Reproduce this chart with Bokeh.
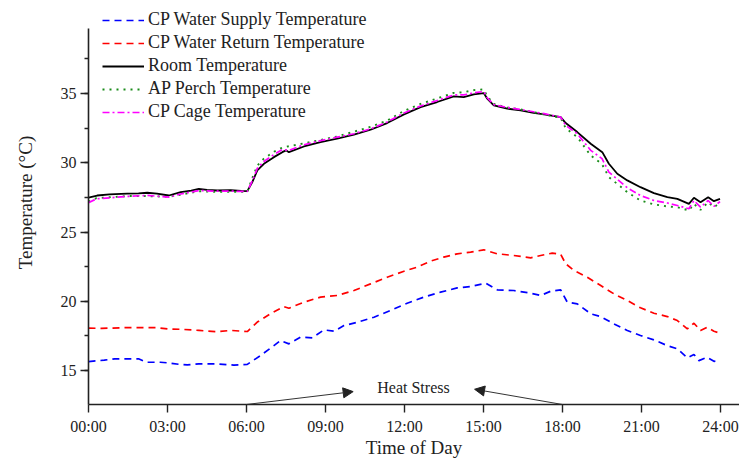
from bokeh.plotting import figure
from bokeh.models import (Range1d, Legend, LegendItem, Arrow, NormalHead, Label,
                          FixedTicker, SingleIntervalTicker)
from bokeh.embed import file_html
from bokeh.resources import INLINE

# ---------------- data ----------------
tick_hours = [0, 3, 6, 9, 12, 15, 18, 21, 24]
tick_labels = ["00:00", "03:00", "06:00", "09:00", "12:00", "15:00", "18:00", "21:00", "24:00"]

supply_t = [0.0, 0.6, 1.0, 1.47, 1.9, 2.2, 2.73, 3.05, 3.45, 3.75, 4.19, 4.89, 5.52, 6.03, 6.53,
            7.04, 7.29, 7.61, 8.05, 8.5, 8.94, 9.32, 9.7, 10.21, 10.84, 11.47, 12.1, 12.73, 13.37,
            14.0, 14.51, 15.08, 15.52, 16.15, 16.79, 17.17, 17.55, 17.93, 18.18, 18.56, 19.07,
            19.45, 19.95, 20.46, 20.96, 21.47, 21.98, 22.36, 22.74, 22.99, 23.18, 23.49, 23.75, 23.98]
supply_v = [15.65, 15.75, 15.85, 15.85, 15.85, 15.6, 15.6, 15.55, 15.45, 15.41, 15.48, 15.48, 15.4,
            15.45, 16.08, 16.8, 17.17, 16.93, 17.41, 17.36, 17.94, 17.84, 18.25, 18.49, 18.85, 19.34,
            19.86, 20.3, 20.66, 20.97, 21.07, 21.31, 20.83, 20.78, 20.59, 20.42, 20.73, 20.83, 19.94,
            19.82, 19.1, 18.9, 18.37, 17.89, 17.53, 17.22, 16.8, 16.57, 15.92, 16.16, 15.72, 15.96,
            15.67, 15.72]

return_t = [0.0, 0.5, 1.47, 2.23, 2.6, 3.05, 3.5, 4.19, 4.89, 5.39, 6.03, 6.41, 6.91, 7.42, 7.61,
            8.18, 8.81, 9.44, 10.08, 10.71, 11.34, 11.98, 12.48, 12.99, 13.49, 14.0, 14.51, 15.01,
            15.52, 16.15, 16.79, 17.17, 17.61, 17.93, 18.12, 18.43, 18.94, 19.45, 19.95, 20.46,
            20.96, 21.47, 21.98, 22.36, 22.74, 22.99, 23.24, 23.49, 23.75, 23.9]
return_v = [18.06, 18.05, 18.1, 18.1, 18.1, 18.0, 17.98, 17.9, 17.8, 17.9, 17.82, 18.5, 19.1, 19.62,
            19.5, 19.94, 20.3, 20.42, 20.78, 21.26, 21.74, 22.17, 22.47, 22.9, 23.19, 23.43, 23.55,
            23.72, 23.43, 23.31, 23.14, 23.31, 23.48, 23.4, 22.71, 22.23, 21.74, 21.14, 20.54, 20.06,
            19.53, 19.14, 18.9, 18.61, 18.01, 18.42, 17.89, 18.13, 17.84, 17.75]

room_t = [0.0, 0.33, 0.8, 1.47, 1.9, 2.23, 2.6, 3.05, 3.5, 3.9, 4.19, 4.5, 4.89, 5.4, 5.8, 6.03,
          6.22, 6.41, 6.66, 7.04, 7.36, 7.5, 7.61, 8.18, 8.81, 9.44, 10.08, 10.71, 11.34, 11.98,
          12.61, 13.24, 13.87, 14.25, 14.63, 15.01, 15.14, 15.39, 15.9, 16.41, 16.9, 17.3, 17.93,
          18.12, 18.56, 19.07, 19.51, 19.76, 20.08, 20.46, 20.96, 21.47, 21.98, 22.36, 22.8, 22.99,
          23.24, 23.53, 23.75, 23.98]
room_v = [27.48, 27.64, 27.72, 27.77, 27.8, 27.84, 27.78, 27.64, 27.88, 28.0, 28.12, 28.05, 28.0,
          28.02, 27.98, 27.96, 28.61, 29.45, 29.93, 30.41, 30.77, 30.9, 30.77, 31.18, 31.5, 31.74,
          32.03, 32.39, 32.87, 33.5, 34.02, 34.39, 34.8, 34.75, 34.94, 35.04, 34.63, 34.15, 33.91,
          33.79, 33.6, 33.5, 33.3, 32.87, 32.22, 31.38, 30.77, 29.93, 29.21, 28.73, 28.24, 27.81,
          27.52, 27.4, 27.04, 27.48, 27.16, 27.52, 27.23, 27.4]

perch_t = [0.0, 0.3, 1.47, 2.2, 3.05, 3.5, 4.19, 4.9, 5.5, 6.03, 6.22, 6.41, 6.66, 7.04, 7.36, 7.61,
           8.18, 8.81, 9.44, 10.08, 10.71, 11.34, 11.98, 12.61, 13.24, 13.87, 14.25, 14.63, 15.01,
           15.14, 15.39, 15.9, 16.41, 17.3, 17.93, 18.12, 18.56, 19.07, 19.5, 19.76, 20.46, 20.96,
           21.47, 21.98, 22.36, 22.8, 22.99, 23.24, 23.53, 23.75, 23.98]
perch_v = [27.2, 27.45, 27.6, 27.6, 27.55, 27.7, 27.95, 27.9, 27.9, 27.9, 28.9, 29.8, 30.3, 30.8,
           31.1, 31.2, 31.4, 31.65, 31.9, 32.25, 32.6, 33.05, 33.75, 34.25, 34.65, 35.05, 35.1,
           35.25, 35.3, 34.8, 34.25, 34.0, 33.85, 33.5, 33.25, 32.5, 31.86, 30.53, 29.9, 28.97,
           27.88, 27.28, 27.0, 26.85, 26.8, 26.56, 27.04, 26.6, 27.16, 26.8, 27.1]

cage_t = [0.0, 0.3, 1.47, 2.2, 3.05, 3.5, 4.19, 4.9, 5.5, 6.03, 6.22, 6.41, 6.66, 7.04, 7.36, 7.61,
          8.18, 8.81, 9.44, 10.08, 10.71, 11.34, 11.98, 12.61, 13.24, 13.87, 14.25, 14.63, 15.01,
          15.14, 15.39, 15.9, 16.41, 17.3, 17.93, 18.12, 18.56, 19.07, 19.5, 19.76, 20.46, 20.96,
          21.47, 21.98, 22.36, 22.8, 22.99, 23.24, 23.53, 23.75, 23.98]
cage_v = [27.12, 27.4, 27.57, 27.65, 27.52, 27.75, 28.0, 27.95, 27.95, 27.93, 28.7, 29.6, 30.1,
          30.6, 30.95, 30.9, 31.3, 31.6, 31.85, 32.1, 32.45, 32.95, 33.6, 34.1, 34.5, 34.9, 34.9,
          35.05, 35.15, 34.7, 34.2, 34.0, 33.85, 33.55, 33.3, 32.7, 32.1, 30.9, 30.3, 29.33, 28.2,
          27.64, 27.28, 27.1, 26.92, 26.68, 27.28, 26.8, 27.28, 26.85, 27.2]

# axis extent and annotation (data units)
y_axis_min, y_axis_max = 12.55, 39.7
heat_text = "Heat Stress"
heat_text_pos = (12.34, 13.77)
arrow1 = (6.0, y_axis_min, 10.05, 13.48)
arrow2 = (18.0, y_axis_min, 14.66, 13.65)

FONT = "Liberation Serif"

# frame spans whole height above the x axis so the legend is not clipped;
# the y axis line itself is bounded to the original extent
p = figure(width=739, height=467, x_range=Range1d(0, 24.72), y_range=Range1d(y_axis_min, 41.72),
           output_backend="svg", toolbar_location=None,
           min_border_left=88, min_border_right=0, min_border_top=0, min_border_bottom=63)
p.outline_line_color = None
p.xgrid.visible = False
p.ygrid.visible = False
p.background_fill_color = "white"

r_sup = p.line(supply_t, supply_v, line_color="#0000ff", line_width=1.7, line_dash="7 5")
r_ret = p.line(return_t, return_v, line_color="#ff0000", line_width=1.7, line_dash="7 5")
r_room = p.line(room_t, room_v, line_color="black", line_width=1.8)
r_perch = p.line(perch_t, perch_v, line_color="#1a8c1a", line_width=1.9, line_dash="2 5")
r_cage = p.line(cage_t, cage_v, line_color="#ff00ff", line_width=1.7, line_dash="7 3 2 3")

legend = Legend(items=[
    LegendItem(label="CP Water Supply Temperature", renderers=[r_sup]),
    LegendItem(label="CP Water Return Temperature", renderers=[r_ret]),
    LegendItem(label="Room Temperature", renderers=[r_room]),
    LegendItem(label="AP Perch Temperature", renderers=[r_perch]),
    LegendItem(label="CP Cage Temperature", renderers=[r_cage]),
], location=(14, 282))
legend.padding = 0
legend.margin = 0
legend.spacing = 2
legend.glyph_width = 42
legend.glyph_height = 20
legend.label_height = 20
legend.label_standoff = 4
legend.label_text_font = FONT
legend.label_text_font_size = "18px"
legend.label_text_color = "#222222"
legend.border_line_color = None
legend.background_fill_alpha = 0
p.add_layout(legend)

# x axis
xa = p.xaxis[0]
xa.ticker = FixedTicker(ticks=tick_hours, minor_ticks=[])
xa.major_label_overrides = {h: lab for h, lab in zip(tick_hours, tick_labels)}
xa.axis_label = "Time of Day"
# y axis
ya = p.yaxis[0]
ya.ticker = SingleIntervalTicker(interval=5, num_minor_ticks=2)
ya.bounds = (y_axis_min, y_axis_max)
ya.axis_label = "Temperature (°C)"

for ax in (xa, ya):
    ax.axis_line_color = "#222222"
    ax.axis_line_width = 1.6
    ax.major_tick_line_color = "#222222"
    ax.major_tick_line_width = 1.4
    ax.minor_tick_line_color = "#222222"
    ax.minor_tick_line_width = 1.4
    ax.major_tick_out = 8
    ax.major_tick_in = 0
    ax.minor_tick_out = 4
    ax.minor_tick_in = 0
    ax.major_label_text_font = FONT
    ax.major_label_text_font_size = "16px"
    ax.major_label_text_color = "#222222"
    ax.axis_label_text_font = FONT
    ax.axis_label_text_font_size = "19px"
    ax.axis_label_text_font_style = "normal"
    ax.axis_label_text_color = "#222222"
xa.major_label_standoff = 5
xa.axis_label_standoff = -1
ya.major_label_standoff = 4
ya.axis_label_standoff = 22

head_kw = dict(size=10, fill_color="#222222", line_color="#222222")
for (xs, ys, xe, ye) in (arrow1, arrow2):
    p.add_layout(Arrow(end=NormalHead(**head_kw), x_start=xs, y_start=ys, x_end=xe, y_end=ye,
                       line_color="#333333", line_width=1))
p.add_layout(Label(x=heat_text_pos[0], y=heat_text_pos[1], text=heat_text, text_font=FONT,
                   text_font_size="16px", text_align="center", text_baseline="middle",
                   text_color="#222222"))

open("out.html", "w").write(file_html(p, INLINE))
